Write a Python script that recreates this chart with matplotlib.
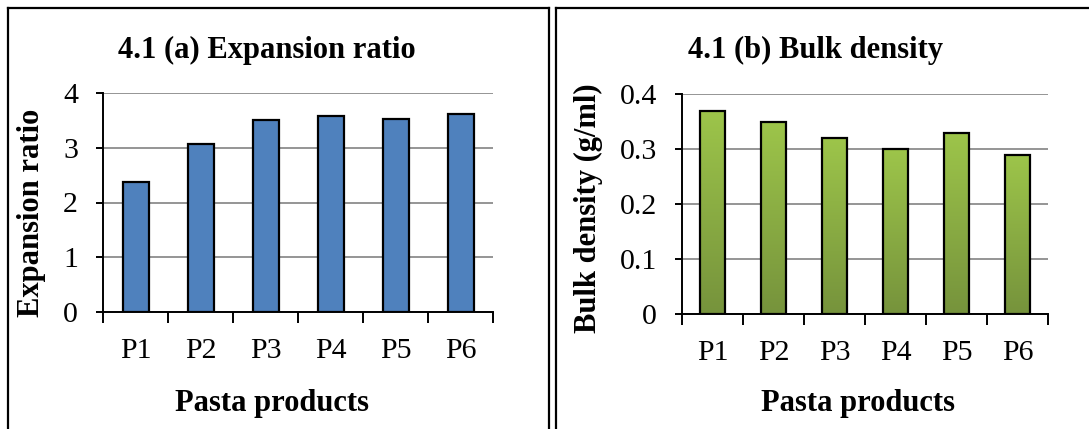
import numpy as np
import matplotlib
matplotlib.use("Agg")
import matplotlib.pyplot as plt
from matplotlib.lines import Line2D
from matplotlib.colors import LinearSegmentedColormap

plt.rcParams['font.family'] = ['Liberation Serif', 'DejaVu Serif']

products = ['P1', 'P2', 'P3', 'P4', 'P5', 'P6']
expansion_ratio = [2.37, 3.07, 3.51, 3.58, 3.53, 3.62]
bulk_density = [0.37, 0.35, 0.32, 0.30, 0.33, 0.29]

W, H = 1089, 429
fig = plt.figure(figsize=(W / 100, H / 100), dpi=100)


def fx(px):
    return px / W


def fy(py):
    return 1 - py / H


def style_axes(ax, ymax, step, fmt):
    ax.set_xlim(-0.5, len(products) - 0.5)
    ax.set_ylim(0, ymax)
    ticks = np.arange(0, ymax + step / 2, step)
    ax.set_yticks(ticks)
    ax.set_yticklabels([fmt(t) for t in ticks], fontsize=21.5)
    ax.yaxis.grid(True, color='#8c8c8c', linewidth=1.3)
    ax.set_axisbelow(True)
    for s in ['top', 'right']:
        ax.spines[s].set_visible(False)
    ax.spines['left'].set_linewidth(1.4)
    ax.spines['bottom'].set_linewidth(1.4)
    # ticks at category boundaries, labels centered
    ax.set_xticks(np.arange(-0.5, len(products) + 0.5, 1))
    ax.set_xticklabels([])
    ax.set_xticks(np.arange(len(products)), minor=True)
    ax.set_xticklabels(products, minor=True, fontsize=21.5)
    ax.tick_params(axis='x', which='major', direction='out', length=8, width=1.4)
    ax.tick_params(axis='x', which='minor', length=0, pad=19)
    ax.tick_params(axis='y', direction='out', length=5, width=1.4, pad=13)


# panel borders
def panel_border(x0, x1, y0):
    fig.add_artist(Line2D([fx(x0), fx(x0)], [fy(y0), 0], color='black', lw=1.6))
    fig.add_artist(Line2D([fx(x0), fx(x1)], [fy(y0), fy(y0)], color='black', lw=1.6))
    if x1 < W:
        fig.add_artist(Line2D([fx(x1), fx(x1)], [fy(y0), 0], color='black', lw=1.6))


panel_border(8, 549, 8)
panel_border(556, W + 5, 8)

# (a) Expansion ratio
ax1 = fig.add_axes([fx(103), fy(312), fx(493 - 103), (312 - 93) / H])
ax1.bar(range(len(products)), expansion_ratio, width=0.4, color='#4f81bd',
        edgecolor='black', linewidth=1.6, zorder=3)
style_axes(ax1, 4, 1, lambda t: f'{t:g}')
fig.text(fx(267), fy(50), '4.1 (a) Expansion ratio', ha='center', va='center',
         fontsize=22, fontweight='bold')
fig.text(fx(272), fy(404), 'Pasta products', ha='center', va='center',
         fontsize=22, fontweight='bold')
fig.text(fx(32), fy(213), 'Expansion ratio', ha='center', va='center',
         rotation=90, fontsize=22, fontweight='bold')

# (b) Bulk density
ax2 = fig.add_axes([fx(682), fy(314), fx(1048 - 682), (314 - 94) / H])
bars = ax2.bar(range(len(products)), bulk_density, width=0.41, color='none',
               edgecolor='black', linewidth=1.6, zorder=4)
green = LinearSegmentedColormap.from_list('g', ['#76933c', '#9dc54a'])
grad = np.linspace(0, 1, 256).reshape(-1, 1)
for b in bars:
    x0, y0 = b.get_x(), b.get_y()
    im = ax2.imshow(grad, cmap=green, origin='lower', aspect='auto',
                    extent=[x0, x0 + b.get_width(), y0, y0 + b.get_height()],
                    zorder=3)
    im.set_clip_path(b)
style_axes(ax2, 0.4, 0.1, lambda t: '0' if t == 0 else f'{t:.1f}')
ax2.set_xlim(-0.5, len(products) - 0.5)
ax2.set_ylim(0, 0.4)
fig.text(fx(815), fy(50), '4.1 (b) Bulk density', ha='center', va='center',
         fontsize=22, fontweight='bold')
fig.text(fx(858), fy(404), 'Pasta products', ha='center', va='center',
         fontsize=22, fontweight='bold')
fig.text(fx(588), fy(208), 'Bulk density (g/ml)', ha='center', va='center',
         rotation=90, fontsize=22, fontweight='bold')

fig.savefig('out.png', dpi=100)
